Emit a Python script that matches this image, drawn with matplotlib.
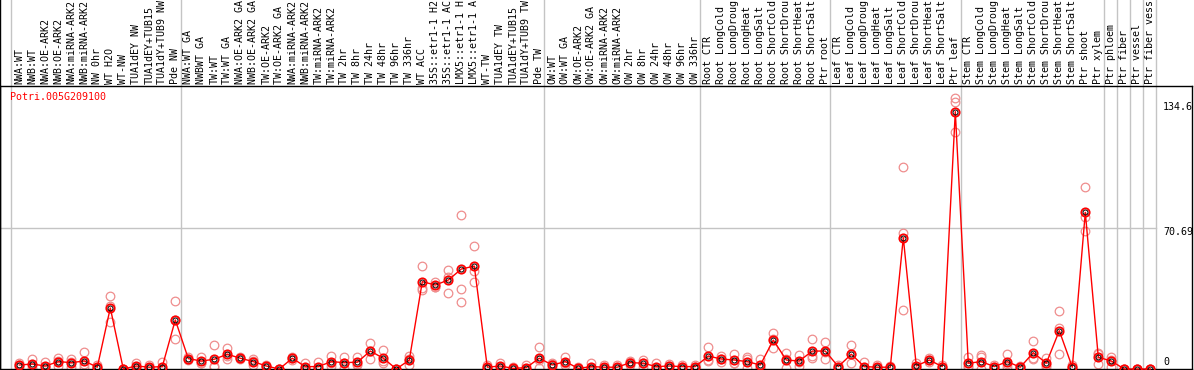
import numpy as np
import matplotlib
matplotlib.use("Agg")
from matplotlib import pyplot as plt
from matplotlib.transforms import blended_transform_factory

gene = "Potri.005G209100"

samples = [
    "NWA:WT", "NWB:WT", "NWA:OE-ARK2", "NWB:OE-ARK2", "NWA:miRNA-ARK2", "NWB:miRNA-ARK2",
    "NW 0hr", "WT H2O", "WT-NW", "TUA1dEY NW", "TUA1dEY+TUB15 NW", "TUA1dY+TUB9 NW", "Pde NW",
    "NWA:WT GA", "NWBWT GA", "TW:WT", "TW:WT GA", "NWA:OE-ARK2 GA", "NWB:OE-ARK2 GA",
    "TW:OE-ARK2", "TW:OE-ARK2 GA", "NWA:miRNA-ARK2 GA", "NWB:miRNA-ARK2 GA", "TW:miRNA-ARK2",
    "TW:miRNA-ARK2 GA", "TW 2hr", "TW 8hr", "TW 24hr", "TW 48hr", "TW 96hr", "TW 336hr",
    "WT ACC", "35S::etr1-1 H2O", "35S::etr1-1 ACC", "LMX5::etr1-1 H2O", "LMX5::etr1-1 ACC",
    "WT-TW", "TUA1dEY TW", "TUA1dEY+TUB15 TW", "TUA1dY+TUB9 TW", "Pde TW",
    "OW:WT", "OW:WT GA", "OW:OE-ARK2", "OW:OE-ARK2 GA", "OW:miRNA-ARK2", "OW:miRNA-ARK2 GA",
    "OW 2hr", "OW 8hr", "OW 24hr", "OW 48hr", "OW 96hr", "OW 336hr",
    "Root CTR", "Root LongCold", "Root LongDrought", "Root LongHeat", "Root LongSalt",
    "Root ShortCold", "Root ShortDrought", "Root ShortHeat", "Root ShortSalt", "Ptr root",
    "Leaf CTR", "Leaf LongCold", "Leaf LongDrought", "Leaf LongHeat", "Leaf LongSalt",
    "Leaf ShortCold", "Leaf ShortDrought", "Leaf ShortHeat", "Leaf ShortSalt", "Ptr leaf",
    "Stem CTR", "Stem LongCold", "Stem LongDrought", "Stem LongHeat", "Stem LongSalt",
    "Stem ShortCold", "Stem ShortDrought", "Stem ShortHeat", "Stem ShortSalt", "Ptr shoot",
    "Ptr xylem", "Ptr phloem", "Ptr fiber", "Ptr vessel", "Ptr fiber vessel",
]

# mean expression per sample
means = [
    2.0, 2.5, 1.5, 3.7, 3.2, 4.0, 0.9, 30.6, 0.0, 1.5, 0.9, 1.2, 24.6,
    5.2, 4.0, 4.9, 7.4, 5.4, 3.7, 1.5, 0.0, 5.4, 1.2, 1.2, 3.7, 3.2, 3.4, 9.0, 5.4,
    0.0, 4.5, 43.8, 42.1, 44.6, 50.1, 51.6, 0.9, 1.5, 0.3, 0.7, 5.4,
    2.0, 3.7, 0.3, 1.2, 0.9, 0.9, 3.2, 2.9, 1.2, 1.5, 1.2, 1.2,
    6.5, 5.0, 4.5, 3.7, 2.0, 14.5, 4.5, 4.0, 9.0, 9.0,
    1.2, 7.4, 1.2, 0.9, 0.9, 65.8, 1.5, 4.5, 1.2, 129.0,
    2.9, 3.7, 1.2, 3.7, 0.9, 8.2, 2.9, 19.2, 0.9, 78.5,
    5.9, 4.0, 0.0, 0.0, 0.0,
]

# individual replicates
rep1 = [
    2.9, 4.9, 3.7, 5.4, 4.9, 8.5, 2.0, 36.6, 0.0, 3.2, 2.0, 3.6, 34.1,
    6.2, 5.9, 12.0, 10.7, 5.9, 4.9, 1.2, 0.0, 6.2, 2.9, 3.4, 6.5, 6.2, 5.9, 13.2, 9.5,
    0.0, 6.5, 51.6, 43.8, 49.6, 77.2, 61.7, 2.0, 3.0, 0.9, 2.0, 11.2,
    2.9, 5.9, 0.9, 2.9, 2.0, 1.8, 3.7, 4.5, 2.9, 2.5, 2.0, 2.0,
    10.9, 6.5, 7.5, 5.9, 5.0, 18.2, 7.9, 7.0, 14.9, 13.4,
    2.0, 12.0, 3.7, 1.8, 1.5, 101.1, 2.9, 5.4, 2.0, 135.7,
    6.2, 7.0, 2.0, 7.5, 1.5, 14.0, 5.7, 29.1, 1.8, 91.1,
    7.9, 6.2, 0.0, 0.0, 0.0,
]
rep2 = [
    1.2, 2.0, 1.2, 1.5, 1.2, 1.2, 0.3, 23.4, 0.0, 0.3, 0.3, 0.0, 15.0,
    4.5, 2.9, 1.2, 4.9, 4.9, 2.0, 1.5, 0.0, 5.4, 0.5, 0.2, 1.5, 0.3, 2.0, 4.9, 2.9,
    0.0, 2.0, 40.5, 41.3, 37.9, 40.0, 43.8, 0.5, 1.0, 0.0, 0.0, 4.5,
    0.6, 2.0, 0.0, 0.5, 0.5, 0.6, 2.0, 1.2, 0.5, 1.5, 1.0, 1.0,
    4.2, 3.7, 2.9, 0.3, 0.6, 10.4, 0.6, 1.5, 5.4, 4.9,
    1.0, 2.9, 0.0, 0.6, 0.8, 68.3, 1.0, 4.5, 1.0, 134.0,
    1.2, 5.9, 1.2, 2.5, 0.8, 4.9, 2.0, 20.4, 0.6, 76.3,
    2.5, 1.2, 0.0, 0.0, 0.0,
]
rep3 = [
    1.9, 0.6, 0.0, 4.2, 3.5, 2.3, 0.4, 31.8, 0.0, 1.0, 0.4, 0.0, 24.7,
    4.9, 3.2, 1.5, 6.6, 5.4, 4.2, 1.8, 0.0, 4.6, 0.2, 0.0, 3.1, 3.1, 2.3, 8.9, 3.8,
    0.0, 5.0, 39.6, 41.2, 46.3, 33.4, 49.3, 0.2, 0.5, 0.0, 0.0, 0.5,
    2.5, 3.2, 0.0, 0.2, 0.2, 0.3, 3.9, 3.0, 0.2, 0.5, 0.6, 0.6,
    4.4, 4.8, 3.1, 4.9, 0.4, 14.9, 5.0, 3.5, 6.7, 8.7,
    0.6, 7.3, 0.0, 0.3, 0.4, 29.6, 0.6, 3.6, 0.6, 118.6,
    1.3, 0.0, 0.4, 1.1, 0.4, 5.7, 1.0, 7.4, 0.3, 69.2,
    7.3, 4.6, 0.0, 0.0, 0.0,
]

# sample groups: index after which a separator is drawn
group_ends = [12, 40, 52, 62, 72, 83, 84, 85, 86, 87]
ytick_vals = [134.6, 70.69, 0]
max_label_chars = 14  # label box only shows this many characters

W, H = 1194, 370
fig = plt.figure(figsize=(W / 100, H / 100), dpi=100)
ax = fig.add_axes([0, 1 / H, 1192 / W, 283 / H])
x = np.arange(len(samples))
ax.set_xlim(-19.3 / 13, (1192 - 19.3) / 13)
ax.set_ylim(0, 283 / 1.995)
ax.set_xticks([])
ax.set_yticks([])
for s in ax.spines.values():
    s.set_color("black")
    s.set_linewidth(1.0)

mono = "DejaVu Sans Mono"
grey = "#c4c4c4"
vtrans = blended_transform_factory(ax.transData, fig.transFigure)

# group separators, running through label area too
seps = [-0.66] + [g + 0.4 for g in group_ends]
for sx in seps:
    ax.plot([sx, sx], [0, 1], color=grey, lw=1.0, transform=vtrans, clip_on=False, zorder=0)
ax.plot([-1.46, -1.46], [0, 1], color="black", lw=1.0, transform=vtrans, clip_on=False)
ax.plot([seps[0] - 1, seps[-1]], [ytick_vals[1]] * 2, color=grey, lw=1.0, zorder=0)

# replicates
for rep in (rep1, rep2, rep3):
    ax.plot(x, rep, ls="none", marker="o", ms=6.2, mfc="none", mec="#ef8d8d",
            mew=0.9, clip_on=False, zorder=2)

# mean line
ax.plot(x, means, color="red", lw=1.0, zorder=3, clip_on=False)
ax.plot(x, means, ls="none", marker="o", ms=6.0, mfc="none", mec="red",
        mew=1.3, clip_on=False, zorder=4)
ax.plot(x, means, ls="none", marker="o", ms=3.6, mfc="none", mec="black",
        mew=0.7, clip_on=False, zorder=5)

# sample labels
for i, name in enumerate(samples):
    ax.text(i, 1 - 84.5 / H, name[:max_label_chars].rstrip(), rotation=90,
            ha="center", va="bottom", fontsize=7.2, family=mono,
            transform=vtrans, clip_on=False)

fig.text(10 / W, 1 - 97 / H, gene, color="red", fontsize=7.2, family=mono,
         ha="left", va="center")

# value labels on the right
ylab_x = (1163 - 19.3) / 13
ax.text(ylab_x, ytick_vals[0] - 3.5, f"{ytick_vals[0]}", fontsize=7.2, family=mono,
        ha="left", va="center", clip_on=False)
ax.text(ylab_x, ytick_vals[1] - 2, f"{ytick_vals[1]}", fontsize=7.2, family=mono,
        ha="left", va="center", clip_on=False)
ax.text(ylab_x, 3.5, "0", fontsize=7.2, family=mono, ha="left", va="center",
        clip_on=False)

fig.savefig("out.png", dpi=100)
